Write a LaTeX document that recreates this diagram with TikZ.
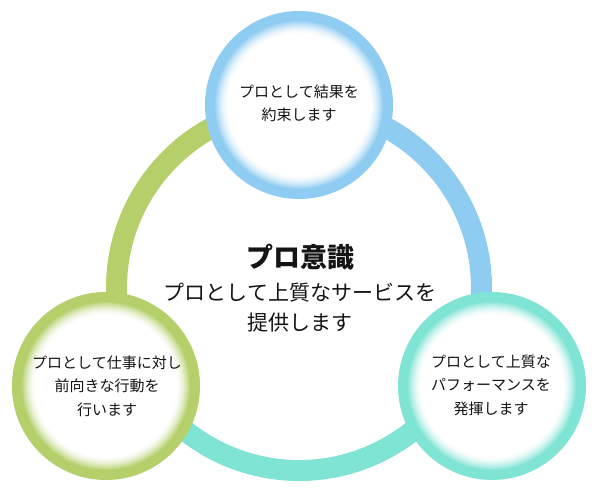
\documentclass[tikz,border=0pt]{standalone}
\usepackage{fontspec}
\setmainfont{Noto Sans CJK JP}
\definecolor{cblue}{RGB}{142,204,242}
\definecolor{cgreen}{RGB}{181,207,106}
\definecolor{cteal}{RGB}{128,228,213}
\definecolor{ctext}{RGB}{20,20,20}
\tikzset{
  ringarc/.style={line width=21pt},
  smalltext/.style={align=center, text=ctext, font=\fontsize{15}{23.5}\selectfont, inner sep=0pt},
  titletext/.style={align=center, text=ctext, font=\fontsize{27}{30}\selectfont\bfseries, inner sep=0pt},
  maintext/.style={align=center, text=ctext, font=\fontsize{21}{30}\selectfont, inner sep=0pt}
}
\begin{document}
\begin{tikzpicture}[x=1pt,y=1pt]
\useasboundingbox[fill=white] (0,0) rectangle (600,500);
\coordinate (ring) at (299,212);
\coordinate (ctop) at (299,395);
\coordinate (cleft) at (106,114);
\coordinate (cright) at (492,114);
% ring arcs
\draw[cgreen, ringarc] ([shift={(90:182.5pt)}]ring) arc[start angle=90, end angle=210, radius=182.5pt];
\draw[cblue, ringarc] ([shift={(90:182.5pt)}]ring) arc[start angle=90, end angle=-30, radius=182.5pt];
\draw[cteal, ringarc] ([shift={(210:182.5pt)}]ring) arc[start angle=210, end angle=330, radius=182.5pt];
% circles with inner glow
\foreach \c/\col in {ctop/cblue, cleft/cgreen, cright/cteal}{
  \fill[\col] (\c) circle[radius=94pt];
  \foreach \k in {0,...,13}{
    \pgfmathtruncatemacro\pct{100*(1-\k/14)^1.6}
    \pgfmathsetmacro\rr{85-\k}
    \fill[\col!\pct!white] (\c) circle[radius=\rr pt];
  }
  \fill[white] (\c) circle[radius=71pt];
}
% texts
\node[smalltext] (ttop) at (299,396.5) {プロとして結果を\\約束します};
\node[smalltext] (tleft) at (107,114) {プロとして仕事に対し\\前向きな行動を\\行います};
\node[smalltext] (tright) at (491,115) {プロとして上質な\\パフォーマンスを\\発揮します};
\node[titletext] (title) at (300,243) {プロ意識};
\node[maintext] (main) at (300,192) {プロとして上質なサービスを\\提供します};
\end{tikzpicture}
\end{document}
